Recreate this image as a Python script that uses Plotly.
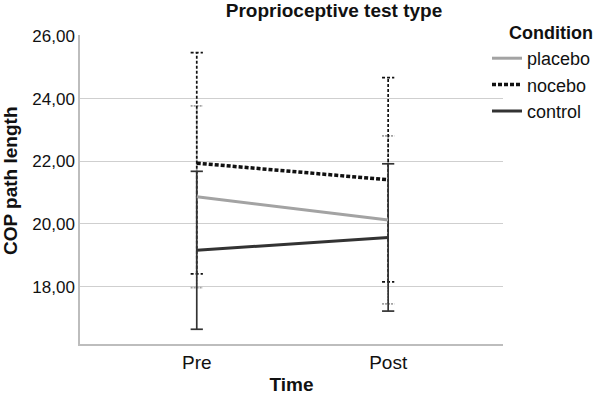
import plotly.graph_objects as go

categories = ["Pre", "Post"]
conditions = ["placebo", "nocebo", "control"]
placebo_mean = [20.87, 20.13]
placebo_err = [2.90, 2.68]
nocebo_mean = [21.94, 21.41]
nocebo_err = [3.53, 3.26]
control_mean = [19.16, 19.57]
control_err = [2.52, 2.35]
y_ticks = [18, 20, 22, 24, 26]
y_ticktext = ["18,00", "20,00", "22,00", "24,00", "26,00"]

styles = {
    "placebo": dict(color="#a3a3a3", dash="solid", width=3, edash="2px,1px"),
    "nocebo": dict(color="#111111", dash="4px,2px", width=3.5, edash="3px,2px"),
    "control": dict(color="#333333", dash="solid", width=3, edash="solid"),
}
series = {
    "placebo": (placebo_mean, placebo_err),
    "nocebo": (nocebo_mean, nocebo_err),
    "control": (control_mean, control_err),
}

xpos = list(range(len(categories)))
cap = 0.032
FONT = "Liberation Sans, Arial, sans-serif"

fig = go.Figure()

# error bars
for name in conditions:
    mean, err = series[name]
    st = styles[name]
    xs, ys = [], []
    for xi, m, e in zip(xpos, mean, err):
        lo, hi = m - e, m + e
        xs += [xi, xi, None, xi - cap, xi + cap, None, xi - cap, xi + cap, None]
        ys += [lo, hi, None, lo, lo, None, hi, hi, None]
    fig.add_trace(go.Scatter(
        x=xs, y=ys, mode="lines", showlegend=False, hoverinfo="skip",
        line=dict(color=st["color"], dash=st["edash"], width=1.7),
    ))

# mean lines
for name in conditions:
    mean, err = series[name]
    st = styles[name]
    fig.add_trace(go.Scatter(
        x=xpos, y=mean, mode="lines", name=name,
        line=dict(color=st["color"], dash=st["dash"], width=st["width"]),
    ))

PL, PT, PW, PH = 80, 35, 423, 309

fig.update_layout(
    width=597, height=395,
    margin=dict(l=PL, r=597 - PL - PW, t=PT, b=395 - PT - PH, autoexpand=False),
    paper_bgcolor="white", plot_bgcolor="white",
    font=dict(family=FONT, size=17, color="#111111"),
    title=dict(text="<b>Proprioceptive test type</b>", x=334 / 597, xref="container",
               xanchor="center", y=1 - 10 / 395, yref="container", yanchor="middle",
               font=dict(size=19, family=FONT, color="#111111")),
    legend=dict(
        x=(487 - PL) / PW, xanchor="left", y=1 - (40 - PT) / PH, yanchor="top",
        font=dict(size=18), bgcolor="rgba(0,0,0,0)",
        tracegroupgap=0, itemwidth=30,
    ),
    showlegend=True,
    annotations=[
        dict(text="<b>Condition</b>", x=(507 - PL) / PW, y=1 + (PT - 33) / PH,
             xref="paper", yref="paper", showarrow=False, xanchor="left", yanchor="middle",
             font=dict(size=18, family=FONT, color="#111111")),
        dict(text="<b>COP path length</b>", x=(11 - PL) / PW, y=1 - (181 - PT) / PH,
             xref="paper", yref="paper", showarrow=False, textangle=-90,
             xanchor="center", yanchor="middle",
             font=dict(size=19, family=FONT, color="#111111")),
    ],
)
fig.update_xaxes(
    range=[-0.61, 1.6], tickvals=xpos, ticktext=categories, automargin=False,
    showgrid=False, zeroline=False, showline=True, linecolor="#bdbdbd", linewidth=1.5,
    ticks="", tickfont=dict(size=19),
    title=dict(text="<b>Time</b>", font=dict(size=19), standoff=8),
)
fig.update_yaxes(
    range=[16.17, 26.03], tickvals=y_ticks, ticktext=y_ticktext, automargin=False,
    showgrid=True, gridcolor="#cfcfcf", gridwidth=1.2, zeroline=False,
    showline=True, linecolor="#bdbdbd", linewidth=1.5,
    ticks="", tickfont=dict(size=17),
)

fig.write_html("out.html", config={"displayModeBar": False})
with open("out.html", "r", encoding="utf-8") as f:
    html = f.read()
html = html.replace("<body>", '<body style="margin:0;padding:0;">', 1)
with open("out.html", "w", encoding="utf-8") as f:
    f.write(html)
